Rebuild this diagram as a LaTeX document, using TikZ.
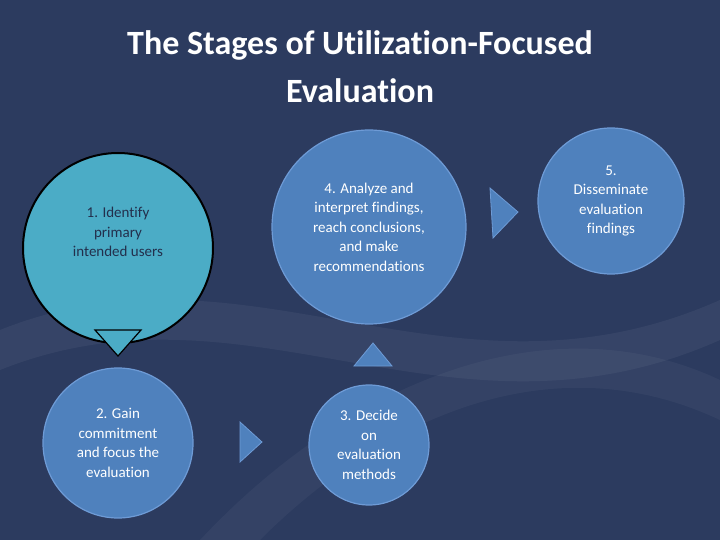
\documentclass[tikz,border=0pt]{standalone}
\usepackage{fontspec}
\setmainfont{Carlito}[Ligatures={NoCommon,NoRare}]
\definecolor{bgnavy}{HTML}{2C3B5F}
\definecolor{stageblue}{HTML}{4F81BD}
\definecolor{stageteal}{HTML}{4BACC6}
\definecolor{rimblue}{HTML}{6E9BD6}
\tikzset{
  stage/.style={circle,fill=stageblue,draw=rimblue,line width=1.2pt,align=center,
    text=white,font=\fontsize{15}{19.5}\selectfont,inner sep=0pt},
  pointer/.style={fill=stageblue,draw=rimblue,line width=0.8pt}
}
\begin{document}
\begin{tikzpicture}[x=1pt,y=-1pt]
  \useasboundingbox (0,0) rectangle (720,540);
  \fill[bgnavy] (0,0) rectangle (720,540);
  % light swooshes in the background
  \fill[white,opacity=0.05] (0,330) .. controls (250,230) and (450,420) .. (720,300)
    -- (720,340) .. controls (450,460) and (250,270) .. (0,370) -- cycle;
  \fill[white,opacity=0.04] (200,540) .. controls (350,380) and (550,300) .. (720,380)
    -- (720,420) .. controls (550,340) and (380,420) .. (260,540) -- cycle;
  \node[text=white,align=center,font=\fontsize{34}{48}\selectfont\bfseries] (title) at (360,67)
    {The Stages of Utilization-Focused\\Evaluation};
  % the five stages
  \node[stage,fill=stageteal,draw=black,line width=2pt,minimum size=190pt,text=bgnavy!80!black] (s1) at (118,248)
    {1. Identify\\primary\\intended users\\[12pt]};
  \node[stage,minimum size=150pt] (s2) at (118,443) {2. Gain\\commitment\\and focus the\\evaluation};
  \node[stage,minimum size=120pt] (s3) at (369,445) {3. Decide\\on\\evaluation\\methods};
  \node[stage,minimum size=194pt] (s4) at (369,227) {4. Analyze and\\interpret findings,\\reach conclusions,\\and make\\recommendations};
  \node[stage,minimum size=146pt] (s5) at (611,201) {5.\\Disseminate\\evaluation\\findings};
  % pointers between stages
  \draw[fill=stageteal,draw=black,line width=1.2pt] (95,330) -- (141,330) -- (118,356) -- cycle;
  \draw[pointer] (240,422) -- (262,442) -- (240,462) -- cycle;
  \draw[pointer] (354,366) -- (373,343) -- (392,366) -- cycle;
  \draw[pointer] (490,188) -- (518,212) -- (493,238) -- cycle;
\end{tikzpicture}
\end{document}
